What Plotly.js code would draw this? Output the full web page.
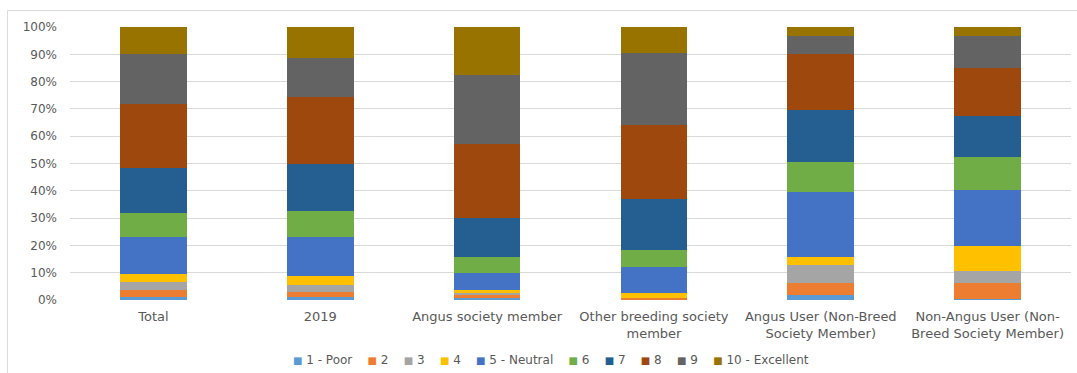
<!DOCTYPE html>
<html>
<head>
<meta charset="utf-8">
<script src="https://cdn.plot.ly/plotly-3.0.1.min.js"></script>
<style>html,body{margin:0;padding:0;background:#fff;}#chart{width:1077px;height:373px;}</style>
</head>
<body>
<div id="chart"></div>
<script>
// Categories (x axis)
const categories = [
  "Total",
  "2019",
  "Angus society member",
  "Other breeding society<br>member",
  "Angus User (Non-Breed<br>Society Member)",
  "Non-Angus User (Non-<br>Breed Society Member)"
];

// Series names and colours
const seriesNames = ["1 - Poor", "2", "3", "4", "5 - Neutral", "6", "7", "8", "9", "10 - Excellent"];
const seriesColors = ["#5B9BD5", "#ED7D31", "#A5A5A5", "#FFC000", "#4472C4", "#70AD47", "#255E91", "#9E480E", "#636363", "#997300"];

// Share of responses (%) per rating, one array per rating, in category order
const rating1  = [1.1, 1.2, 0.8, 0.0, 1.9, 0.4];
const rating2  = [2.55, 1.8, 1.0, 0.9, 4.2, 5.7];
const rating3  = [3.05, 2.5, 0.8, 0.0, 6.7, 4.5];
const rating4  = [2.8, 3.3, 1.2, 1.6, 3.0, 9.3];
const rating5  = [13.6, 14.3, 6.2, 9.7, 23.7, 20.3];
const rating6  = [8.6, 9.5, 5.6, 6.1, 10.9, 12.3];
const rating7  = [16.7, 17.3, 14.6, 18.6, 19.1, 14.9];
const rating8  = [23.5, 24.6, 27.0, 27.2, 20.5, 17.6];
const rating9  = [18.2, 14.2, 25.4, 26.3, 6.8, 11.7];
const rating10 = [9.9, 11.3, 17.4, 9.6, 3.2, 3.3];

const seriesValues = [rating1, rating2, rating3, rating4, rating5, rating6, rating7, rating8, rating9, rating10];

const traces = seriesValues.map((vals, i) => ({
  type: "bar",
  name: seriesNames[i],
  x: categories,
  y: vals.map(v => v / 100),
  marker: { color: seriesColors[i], line: { width: 0 } },
  hoverinfo: "skip"
}));

// Legend text built from the series names and colours
const legendText = seriesNames.map((n, i) =>
  '<span style="color:' + seriesColors[i] + ';font-size:10px">\u25A0</span>\u00A0' + n
).join('\u00A0\u00A0\u00A0\u00A0');

const font = "DejaVu Sans, Open Sans, sans-serif";

const layout = {
  width: 1077,
  height: 373,
  margin: { l: 70, r: 6, t: 27, b: 73 },
  paper_bgcolor: "#ffffff",
  plot_bgcolor: "#ffffff",
  barmode: "stack",
  bargap: 0.6,
  showlegend: false,
  font: { family: font, size: 12, color: "#595959" },
  xaxis: {
    type: "category",
    showgrid: false,
    zeroline: false,
    showline: false,
    ticks: "",
    ticklabelstandoff: 7,
    tickfont: { family: font, size: 13, color: "#595959" }
  },
  yaxis: {
    range: [0, 1],
    dtick: 0.1,
    tickformat: ".0%",
    showgrid: true,
    gridcolor: "#D9D9D9",
    gridwidth: 1,
    zeroline: false,
    showline: false,
    ticks: "",
    ticklabelstandoff: 12,
    tickfont: { family: font, size: 12, color: "#595959" }
  },
  shapes: [{
    type: "rect", xref: "paper", yref: "paper",
    x0: -0.0625, x1: 1.02, y0: -0.4, y1: 1.06,
    line: { color: "#D9D9D9", width: 1 },
    fillcolor: "rgba(0,0,0,0)",
    layer: "below"
  }],
  annotations: [{
    xref: "paper", yref: "paper",
    x: 0.481, y: -0.22,
    xanchor: "center", yanchor: "middle",
    showarrow: false,
    text: legendText,
    font: { family: font, size: 12, color: "#595959" }
  }]
};

Plotly.newPlot("chart", traces, layout, { staticPlot: true, displayModeBar: false });
</script>
</body>
</html>
